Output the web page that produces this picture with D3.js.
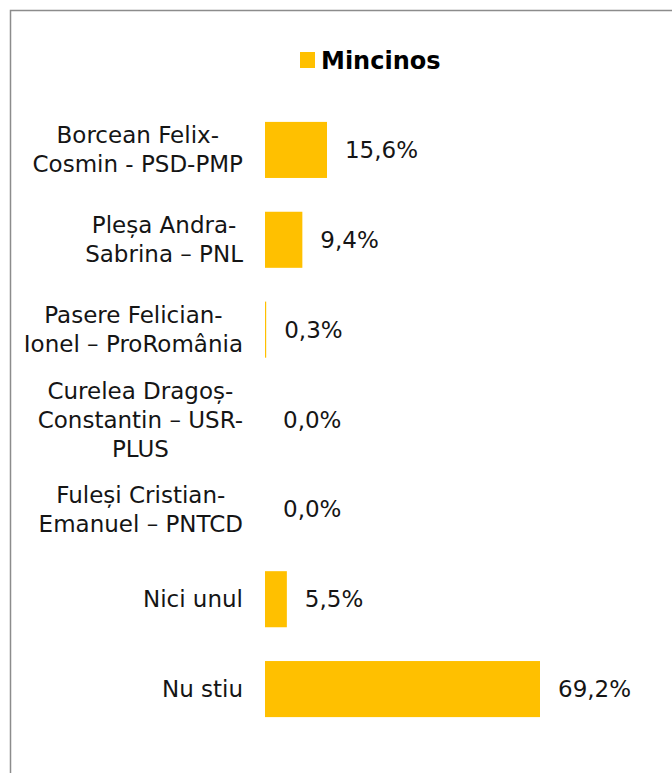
<!DOCTYPE html>
<html>
<head>
<meta charset="utf-8">
<script src="https://cdn.jsdelivr.net/npm/d3@7"></script>
<style>
  html, body { margin: 0; padding: 0; background: #fff; }
  svg { display: block; }
</style>
</head>
<body>
<svg id="chart" width="672" height="773"></svg>
<script>
const categories = [
  "Borcean Felix-\nCosmin - PSD-PMP",
  "Pleșa Andra-\nSabrina – PNL",
  "Pasere Felician-\nIonel – ProRomânia",
  "Curelea Dragoș-\nConstantin – USR-\nPLUS",
  "Fuleși Cristian-\nEmanuel – PNTCD",
  "Nici unul",
  "Nu stiu"
];
const values = [15.6, 9.4, 0.3, 0.0, 0.0, 5.5, 69.2];
const seriesName = "Mincinos";

const FONT = "'DejaVu Sans', sans-serif";
const FS = 23;
const LINE_H = 29;
const BAR_COLOR = "#FFC000";
const TEXT_COLOR = "#151515";

const svg = d3.select("#chart");

// outer border (box continues beyond the right/bottom edges)
svg.append("rect")
  .attr("x", 10.5).attr("y", 10.5)
  .attr("width", 720).attr("height", 800)
  .attr("fill", "none").attr("stroke", "#8c8c8c").attr("stroke-width", 1.5);

const x0 = 265;
const x = d3.scaleLinear().domain([0, 80]).range([x0, x0 + 80 * 3.974]);
const y = d3.scaleBand().domain(categories).range([105, 734])
  .paddingInner(0.376).paddingOuter(0.188);

const data = categories.map((c, i) => ({ c, v: values[i] }));

// bars
svg.append("g").selectAll("rect").data(data).join("rect")
  .attr("x", x(0))
  .attr("y", d => y(d.c))
  .attr("width", d => x(d.v) - x(0))
  .attr("height", y.bandwidth())
  .attr("fill", BAR_COLOR);

// value labels
svg.append("g").selectAll("text").data(data).join("text")
  .attr("x", d => x(d.v) + 18)
  .attr("y", d => y(d.c) + y.bandwidth() / 2)
  .attr("dy", "0.35em")
  .attr("font-family", FONT).attr("font-size", FS)
  .attr("fill", TEXT_COLOR)
  .text(d => d.v.toFixed(1).replace(".", ",") + "%");

// category axis
const PAD = 22;
const axisG = svg.append("g")
  .attr("transform", `translate(${x0},0)`)
  .call(d3.axisLeft(y).tickSize(0).tickPadding(PAD));
axisG.select(".domain").remove();
axisG.selectAll(".tick text").each(function(d) {
  const t = d3.select(this);
  const lines = d.split("\n");
  t.text(null)
    .attr("font-family", FONT).attr("font-size", FS)
    .attr("fill", TEXT_COLOR)
    .attr("dy", null)
    .attr("text-anchor", "middle");
  const n = lines.length;
  lines.forEach((ln, i) => {
    t.append("tspan")
      .attr("x", 0)
      .attr("y", (i - (n - 1) / 2) * LINE_H)
      .attr("dy", "0.35em")
      .text(ln);
  });
  let maxW = 0;
  t.selectAll("tspan").each(function() {
    maxW = Math.max(maxW, this.getComputedTextLength());
  });
  t.selectAll("tspan").attr("x", -(PAD + maxW / 2));
});

// legend
const lg = svg.append("g");
lg.append("rect")
  .attr("x", 300).attr("y", 52)
  .attr("width", 15).attr("height", 16)
  .attr("fill", BAR_COLOR);
lg.append("text")
  .attr("x", 321).attr("y", 69)
  .attr("font-family", FONT).attr("font-size", 24)
  .attr("font-weight", "bold").attr("fill", "#000")
  .text(seriesName);
</script>
</body>
</html>
